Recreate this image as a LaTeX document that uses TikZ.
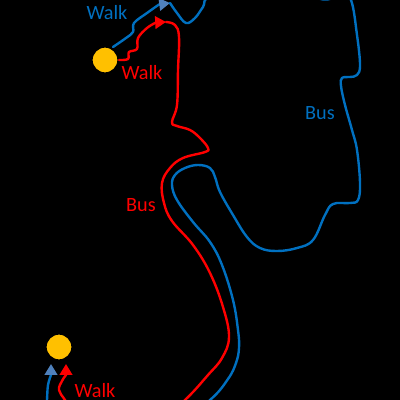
\documentclass[tikz,border=0pt]{standalone}
\usepackage{fontspec}
\setmainfont{Carlito}
\usetikzlibrary{arrows.meta}
\definecolor{routeBlue}{HTML}{0070C0}
\definecolor{routeRed}{HTML}{FF0000}
\definecolor{headBlue}{HTML}{4F81BD}
\definecolor{stopYellow}{HTML}{FFC000}
\tikzset{
  route/.style     = {line width=1.7pt, line cap=round, line join=round},
  blueroute/.style = {route, routeBlue},
  redroute/.style  = {route, routeRed},
  bluetip/.style   = {-{Triangle[length=2.7mm, width=3.1mm, color=headBlue]}},
  redtip/.style    = {-{Triangle[length=2.7mm, width=3.1mm, color=routeRed]}},
  stopdot/.style   = {circle, fill=stopYellow, draw=black, line width=1.2pt, minimum size=6.6mm, inner sep=0pt},
  lbl/.style       = {font=\fontsize{14.4}{16}\selectfont, inner sep=0pt},
}
\begin{document}
\begin{tikzpicture}[x=0.025cm,y=-0.025cm]
  \fill[black] (0,0) rectangle (400,400);
  \clip (0,0) rectangle (400,400);
  \node[stopdot] (residence) at (105,60) {};
  \node[stopdot] (university) at (59,347) {};
  \coordinate (blueChange) at (170,3);
  \coordinate (redChange) at (166,22);
  \coordinate (blueEnd) at (51,364);
  \coordinate (redEnd) at (66,364);
  \coordinate (blueOff) at (46,418);
  \coordinate (redOff) at (74,414);
  \draw[blueroute, bluetip] plot[smooth, tension=0.6] coordinates {(113,47) (126,38) (133,32) (134,23) (147,13) (159,4.5)} -- (blueChange);
  \draw[redroute, redtip] plot[smooth, tension=0.6] coordinates {(119,60) (128,59) (129,52) (137,49) (138,38) (147,28) (156,22.5)} -- (redChange);
  \draw[blueroute] plot[smooth, tension=0.65] coordinates {(blueChange) (177,13) (186,23) (195,18) (203,7) (212,-5) (265,-20) (323,-0.6) (340,-10) (351,0) (357,35) (360,65) (357,75) (350,77) (342,78) (341,86) (345,105) (352,130) (357,150) (360,183) (358,200) (350,203) (333,204) (325,215) (313,240) (297,248) (277,251) (260,248) (247,237) (233,215) (220,192) (215,177) (210,168) (198,165) (185,168) (175,175) (172,185) (177,200) (193,222) (210,242) (222,265) (233,300) (238,330) (239,348) (236,363) (228,379) (210,400) (170,430) (80,440) (blueOff)};
  \draw[redroute] plot[smooth, tension=0.65] coordinates {(redChange) (175,25) (179,37) (178,70) (177,105) (172,122) (177,126) (190,130) (200,138) (208,148) (205,152) (183,158) (170,168) (162,183) (164,203) (172,221) (193,245) (210,273) (223,307) (229,337) (222,358) (208,375) (185,400) (150,430) (100,435) (redOff)};
  \draw[blueroute, bluetip] plot[smooth, tension=0.6] coordinates {(blueOff) (47,400) (48,385) (51,375)} -- (blueEnd);
  \draw[redroute, redtip] plot[smooth, tension=0.7] coordinates {(redOff) (65,400) (59,390) (62,381) (66,375)} -- (redEnd);
  \foreach \n/\p/\c/\t in {walkA/{(107,13)}/routeBlue/Walk, walkB/{(142,73)}/routeRed/Walk, walkC/{(95,391)}/routeRed/Walk, busA/{(320,113)}/routeBlue/Bus, busB/{(141,205)}/routeRed/Bus, residenceLbl/{(56,77)}/black/Residence, universityLbl/{(58,315)}/black/University}
    { \node[lbl, text=\c] (\n) at \p {\t}; }
\end{tikzpicture}
\end{document}
